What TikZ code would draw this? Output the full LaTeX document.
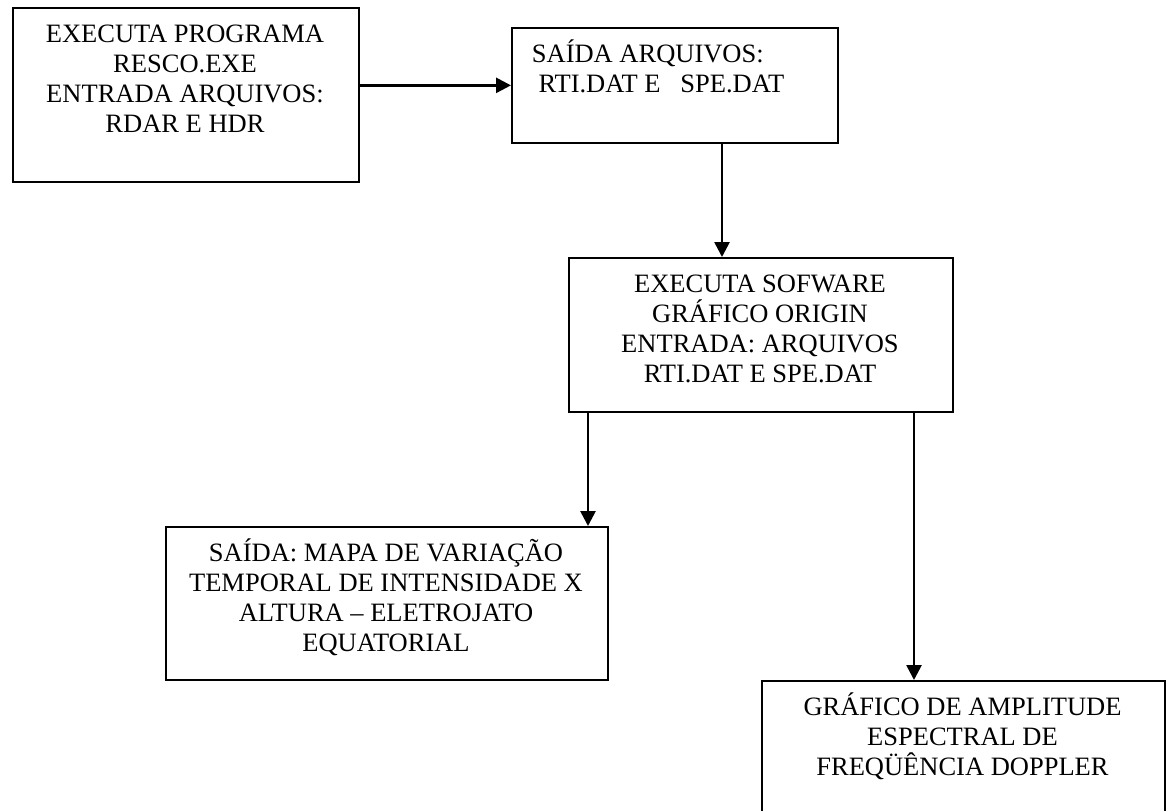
\documentclass[tikz,border=0pt]{standalone}
\usepackage{fontspec}
\setmainfont{Liberation Serif}
\usetikzlibrary{arrows.meta}

\tikzset{
  blk/.style={draw, line width=1.2pt, inner sep=0pt, anchor=north west},
  lbl/.style={align=center, anchor=base, inner sep=0pt, font=\fontsize{18.85}{21.34}\selectfont},
  arr/.style={line width=1.9pt, -{Triangle[length=0.375cm, width=0.375cm]}}
}

\begin{document}
\begin{tikzpicture}
  % Page:
  \clip (0, 0) rectangle (29.225, -20.25);
  % Boxes:
  \node[blk, minimum width=8.65cm, minimum height=4.35cm] (b1) at (0.3, -0.175){};
  \node[blk, minimum width=8.15cm, minimum height=2.875cm] (b2) at (12.775, -0.675){};
  \node[blk, minimum width=9.6cm, minimum height=3.85cm] (b3) at (14.2, -6.425){};
  \node[blk, minimum width=11.05cm, minimum height=3.825cm] (b4) at (4.125, -13.15){};
  \node[blk, minimum width=10.075cm, minimum height=4cm] (b5) at (19.025, -17){};
  % Texts (placed by the baseline of their last line):
  \node[lbl] (t1) at (4.625, -3.3){EXECUTA PROGRAMA\\RESCO.EXE\\ENTRADA ARQUIVOS:\\RDAR E HDR};
  \node[lbl, align=left, anchor=base west] (t2) at (13.29, -2.3){SAÍDA ARQUIVOS:\\\hspace*{0.25em}RTI.DAT E\ \ \ SPE.DAT};
  \node[lbl] (t3) at (19, -9.55){EXECUTA SOFWARE\\GRÁFICO ORIGIN\\ENTRADA: ARQUIVOS\\RTI.DAT E SPE.DAT};
  \node[lbl] (t4) at (9.65, -16.275){SAÍDA: MAPA DE VARIAÇÃO\\TEMPORAL DE INTENSIDADE X\\ALTURA – ELETROJATO\\EQUATORIAL};
  \node[lbl] (t5) at (24.0625, -19.375){GRÁFICO DE AMPLITUDE\\ESPECTRAL DE\\FREQÜÊNCIA DOPPLER};
  % Arrows:
  \coordinate (x2) at (18.05, 0);
  \coordinate (x3) at (14.7, 0);
  \coordinate (x4) at (22.85, 0);
  \draw[arr] (b1.east |- b2.west) -- (b2.west);
  \draw[arr] (b2.south -| x2) -- (b3.north -| x2);
  \draw[arr] (b3.south -| x3) -- (b4.north -| x3);
  \draw[arr] (b3.south -| x4) -- (b5.north -| x4);
\end{tikzpicture}
\end{document}
